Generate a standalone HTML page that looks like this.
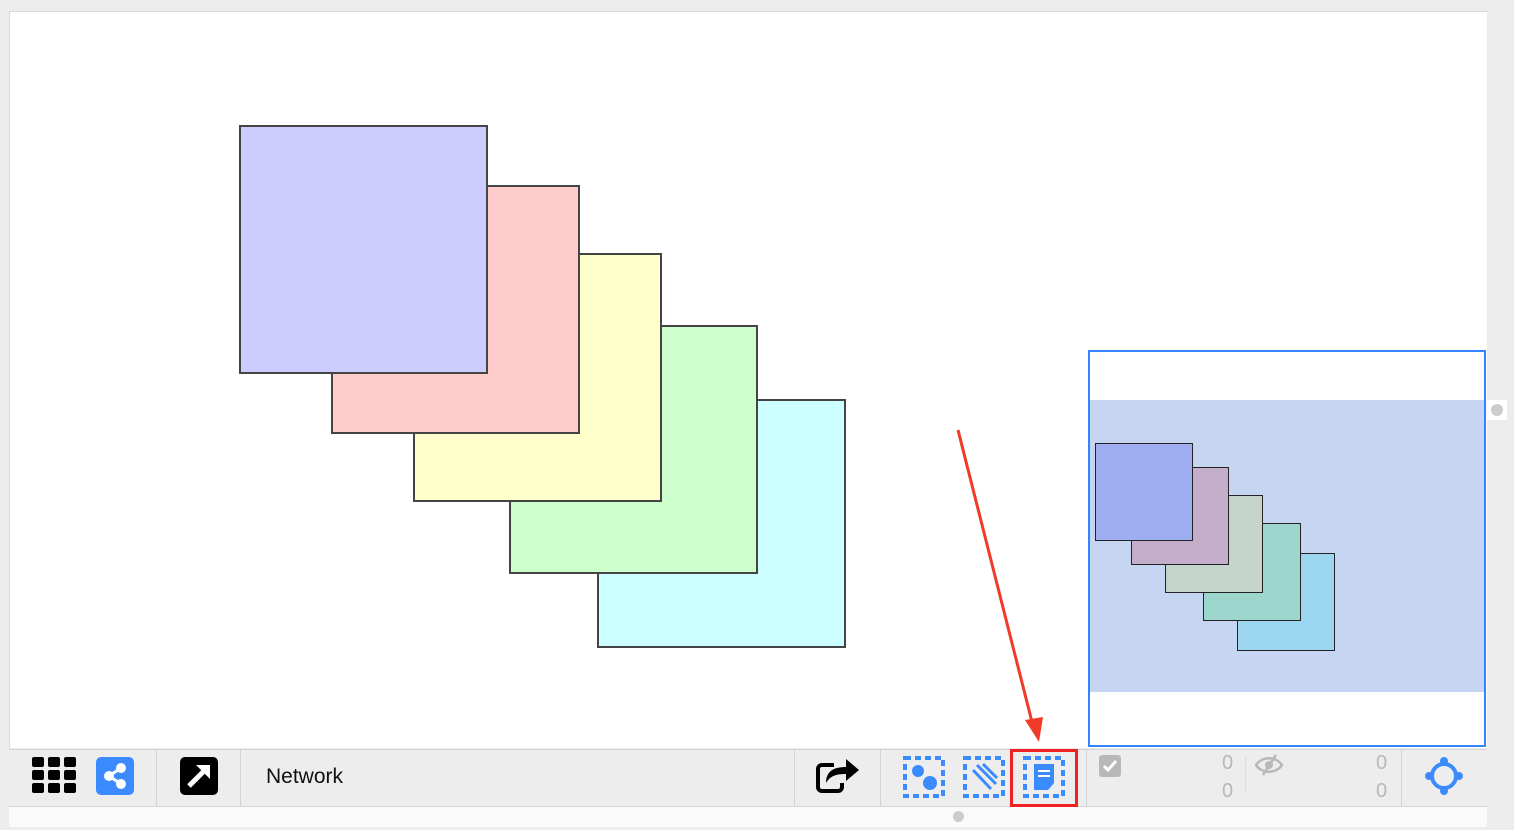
<!DOCTYPE html>
<html><head><meta charset="utf-8"><style>
*{margin:0;padding:0;box-sizing:border-box}
body{width:1514px;height:830px;background:#ececec;position:relative;overflow:hidden;font-family:"Liberation Sans",sans-serif}
.a{position:absolute}
.sq{position:absolute;border:2px solid #444}
.mq{position:absolute;border:1px solid #222}
.sep{position:absolute;top:750px;width:1px;height:56px;background:#d4d4d4}
.num{position:absolute;color:#b8b8b8;font-size:20px}
</style></head><body>
<div class="a" style="left:9px;top:11px;width:1478px;height:737px;background:#fff;border-left:1px solid #d8d8d8;border-top:1px solid #d8d8d8"></div>
<div class="sq" style="left:597px;top:399px;width:249px;height:249px;background:#ccffff"></div>
<div class="sq" style="left:509px;top:325px;width:249px;height:249px;background:#ccffcc"></div>
<div class="sq" style="left:413px;top:253px;width:249px;height:249px;background:#ffffcc"></div>
<div class="sq" style="left:331px;top:185px;width:249px;height:249px;background:#ffcccc"></div>
<div class="sq" style="left:239px;top:125px;width:249px;height:249px;background:#ccccff"></div>

<div class="a" style="left:1088px;top:350px;width:398px;height:397px;border:2px solid #3385ff;background:#fff;overflow:hidden">
 <div class="a" style="left:0;top:48px;width:396px;height:292px;background:#c5d5f2"></div>
 <div class="mq" style="left:1147px;top:0"></div>
</div>
<div class="mq" style="left:1237px;top:553px;width:98px;height:98px;background:#9cd6f0"></div>
<div class="mq" style="left:1203px;top:523px;width:98px;height:98px;background:#9cd6cc"></div>
<div class="mq" style="left:1165px;top:495px;width:98px;height:98px;background:#c4d4cb"></div>
<div class="mq" style="left:1131px;top:467px;width:98px;height:98px;background:#c4aecb"></div>
<div class="mq" style="left:1095px;top:443px;width:98px;height:98px;background:#9eaef0"></div>

<div class="a" style="left:1487px;top:400px;width:20px;height:20px;background:#fff"><div style="margin:4px;width:12px;height:12px;border-radius:50%;background:#ccc"></div></div>

<svg class="a" style="left:0;top:0" width="1514" height="830">
 <line x1="958" y1="430" x2="1032" y2="722" stroke="#f03a2a" stroke-width="3"/>
 <polygon points="1025,720 1043,717 1039,742" fill="#f03a2a"/>
</svg>

<div class="a" style="left:9px;top:749px;width:1478px;height:58px;background:#ededed;border-top:1px solid #d4d4d4;border-bottom:1px solid #d4d4d4"></div>
<div class="sep" style="left:156px"></div><div class="sep" style="left:240px"></div>
<div class="sep" style="left:794px"></div><div class="sep" style="left:880px"></div>
<div class="sep" style="left:1086px"></div><div class="sep" style="left:1401px"></div>

<svg class="a" style="left:32px;top:757px" width="44" height="36">
 <g fill="#000"><rect x="0" y="0" width="12" height="10" rx="2"/><rect x="16" y="0" width="12" height="10" rx="2"/><rect x="32" y="0" width="12" height="10" rx="2"/>
 <rect x="0" y="13" width="12" height="10" rx="2"/><rect x="16" y="13" width="12" height="10" rx="2"/><rect x="32" y="13" width="12" height="10" rx="2"/>
 <rect x="0" y="26" width="12" height="10" rx="2"/><rect x="16" y="26" width="12" height="10" rx="2"/><rect x="32" y="26" width="12" height="10" rx="2"/></g></svg>
<svg class="a" style="left:96px;top:757px" width="38" height="38">
 <rect width="38" height="38" rx="5" fill="#3b8bff"/>
 <g stroke="#fff" stroke-width="3"><line x1="25" y1="11" x2="13" y2="19"/><line x1="13" y1="19" x2="25" y2="27"/></g>
 <g fill="#fff"><circle cx="25" cy="11" r="5"/><circle cx="13" cy="19" r="5"/><circle cx="25" cy="27" r="5"/></g></svg>
<svg class="a" style="left:180px;top:757px" width="38" height="38">
 <rect width="38" height="38" rx="5" fill="#000"/>
 <line x1="9" y1="29" x2="25" y2="13" stroke="#fff" stroke-width="5"/><polygon points="16,8 30,8 30,22" fill="#fff"/></svg>
<div class="a" style="left:266px;top:765px;font-size:21px;color:#111">Network</div>

<svg class="a" style="left:816px;top:753px" width="46" height="42">
 <path d="M18 12 H6 a4 4 0 0 0 -4 4 V34 a4 4 0 0 0 4 4 H22 a4 4 0 0 0 4 -4 V30" fill="none" stroke="#000" stroke-width="4"/>
 <path d="M10 30 C10 18 18 14 30 14 V6 L43 17 L30 28 V21 C20 21 14 23 10 30Z" fill="#000"/></svg>
<svg class="a" style="left:903px;top:756px" width="42" height="42">
 <rect x="2" y="2" width="38" height="38" fill="none" stroke="#3b8bff" stroke-width="4" stroke-dasharray="6,4"/>
 <circle cx="15" cy="15" r="6" fill="#3b8bff"/><circle cx="27" cy="27" r="7" fill="#3b8bff"/></svg>
<svg class="a" style="left:963px;top:756px" width="42" height="42">
 <rect x="2" y="2" width="38" height="38" fill="none" stroke="#3b8bff" stroke-width="4" stroke-dasharray="6,4"/>
 <g stroke="#3b8bff" stroke-width="3"><line x1="10" y1="14" x2="28" y2="33"/><line x1="14" y1="9" x2="33" y2="28"/><line x1="20" y1="8" x2="34" y2="22"/></g></svg>
<div class="a" style="left:1010px;top:749px;width:68px;height:58px;border:3px solid #f02020"></div>
<svg class="a" style="left:1023px;top:756px" width="42" height="42">
 <rect x="2" y="2" width="38" height="38" fill="none" stroke="#3b8bff" stroke-width="4" stroke-dasharray="6,4"/>
 <path d="M11 8 H31 V27 L25 34 H11Z" fill="#3b8bff"/><g stroke="#fff" stroke-width="2"><line x1="15" y1="15" x2="27" y2="15"/><line x1="15" y1="20" x2="27" y2="20"/></g></svg>

<svg class="a" style="left:1099px;top:755px" width="22" height="22"><rect width="22" height="22" rx="3" fill="#b8b8b8"/><path d="M5 11 L9 15 L17 6" stroke="#fff" stroke-width="3" fill="none"/></svg>
<div class="num" style="left:1222px;top:752px">0</div>
<div class="num" style="left:1222px;top:780px">0</div>
<div class="a" style="left:1245px;top:756px;width:1px;height:38px;background:#ddd"></div>
<svg class="a" style="left:1254px;top:754px" width="30" height="22"><path d="M2 11 C8 2 22 2 28 11 C22 20 8 20 2 11Z" fill="none" stroke="#b8b8b8" stroke-width="2.5"/><circle cx="15" cy="11" r="4" fill="#b8b8b8"/><line x1="9" y1="21" x2="22" y2="1" stroke="#b8b8b8" stroke-width="2.5"/></svg>
<div class="num" style="left:1376px;top:752px">0</div>
<div class="num" style="left:1376px;top:780px">0</div>
<svg class="a" style="left:1424px;top:756px" width="40" height="40">
 <circle cx="20" cy="20" r="12" fill="none" stroke="#3b8bff" stroke-width="4"/>
 <g fill="#3b8bff"><circle cx="20" cy="5" r="4"/><circle cx="20" cy="35" r="4"/><circle cx="5" cy="20" r="4"/><circle cx="35" cy="20" r="4"/></g></svg>

<div class="a" style="left:9px;top:807px;width:1478px;height:20px;background:#fafafa"></div>
<div class="a" style="left:953px;top:811px;width:11px;height:11px;border-radius:50%;background:#ccc"></div>
</body></html>
